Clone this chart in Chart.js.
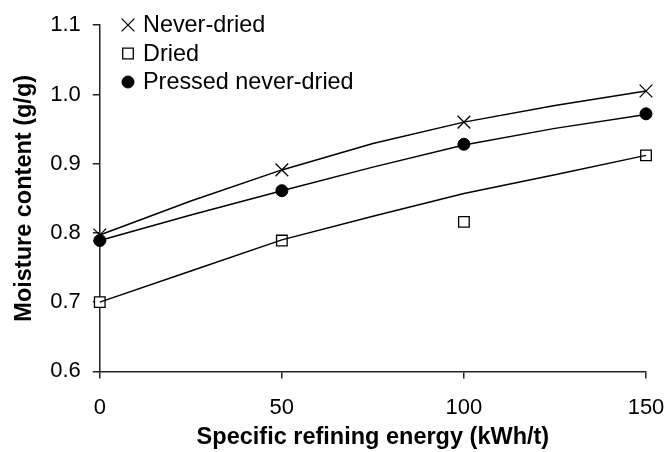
<!DOCTYPE html>
<html>
<head>
<meta charset="utf-8">
<script src="https://cdn.jsdelivr.net/npm/chart.js@4"></script>
<style>
  html, body { margin: 0; padding: 0; background: #fff; }
  #wrap { width: 670px; height: 452px; }
</style>
</head>
<body>
<div id="wrap"><canvas id="chart"></canvas></div>
<script>
// measured points
const energy = [0, 50, 100, 150];
const neverDried = [0.797, 0.891, 0.960, 1.005];
const dried = [0.700, 0.789, 0.816, 0.912];
const pressed = [0.789, 0.861, 0.928, 0.972];

// trend lines
const trendX = [0, 25, 50, 75, 100, 125, 150];
const trendNever = [0.797, 0.846, 0.891, 0.929, 0.960, 0.984, 1.005];
const trendPressed = [0.789, 0.826, 0.861, 0.895, 0.927, 0.951, 0.971];
const trendDried = [0.700, 0.745, 0.790, 0.824, 0.857, 0.884, 0.912];

const legendLabels = ['Never-dried', 'Dried', 'Pressed never-dried'];

const FONT = '"Liberation Sans", Arial, sans-serif';

function pts(xs, ys) { return xs.map((x, i) => ({ x: x, y: ys[i] })); }

function trend(ys) {
  return {
    data: pts(trendX, ys),
    showLine: true,
    borderColor: '#000',
    borderWidth: 1.5,
    pointRadius: 0,
    tension: 0,
    fill: false,
    clip: false
  };
}

const markerSets = [
  { data: pts(energy, neverDried), pointStyle: 'crossRot', pointRadius: 9, borderColor: '#000', backgroundColor: '#000', pointBorderWidth: 1.3 },
  { data: pts(energy, dried), pointStyle: 'rect', pointRadius: 7.5, borderColor: '#000', backgroundColor: '#fff', pointBorderWidth: 1.3 },
  { data: pts(energy, pressed), pointStyle: 'circle', pointRadius: 6, borderColor: '#000', backgroundColor: '#000', pointBorderWidth: 1 }
];

// legend drawn inside plot, top left
const innerLegend = {
  id: 'innerLegend',
  afterDraw(chart) {
    const ctx = chart.ctx;
    const x0 = 128, y0 = 25, gap = 28.5;
    ctx.save();
    ctx.font = '23.4px ' + FONT;
    ctx.textBaseline = 'middle';
    legendLabels.forEach((lab, i) => {
      const ds = markerSets[i];
      const y = y0 + gap * i;
      ctx.strokeStyle = ds.borderColor;
      ctx.fillStyle = ds.backgroundColor;
      ctx.lineWidth = ds.pointBorderWidth;
      Chart.helpers.drawPoint(ctx, { pointStyle: ds.pointStyle, radius: ds.pointRadius, borderWidth: ds.pointBorderWidth }, x0, y);
      ctx.fillStyle = '#000';
      ctx.fillText(lab, 143, y + 1);
    });
    ctx.restore();
  }
};

new Chart(document.getElementById('chart').getContext('2d'), {
  type: 'scatter',
  data: {
    datasets: [
      trend(trendNever),
      trend(trendDried),
      trend(trendPressed),
      ...markerSets.map(m => Object.assign({ showLine: false, clip: false }, m))
    ]
  },
  options: {
    responsive: true,
    maintainAspectRatio: false,
    animation: false,
    layout: { padding: { left: 10, right: 0, top: 14, bottom: 0 } },
    plugins: { legend: { display: false }, tooltip: { enabled: false } },
    scales: {
      x: {
        type: 'linear',
        min: 0, max: 150,
        afterFit: s => { s.paddingRight = 24; },
        border: { display: true, color: '#222', width: 1.5 },
        grid: { drawOnChartArea: false, drawTicks: true, tickLength: 7, color: '#222', lineWidth: 1.5 },
        ticks: { stepSize: 50, color: '#000', font: { family: FONT, size: 22 }, padding: 16, maxRotation: 0 },
        title: { display: true, text: 'Specific refining energy (kWh/t)', color: '#000', font: { family: FONT, size: 23.5, weight: 'bold' }, padding: { top: -13, bottom: 0 } }
      },
      y: {
        min: 0.6, max: 1.1,
        border: { display: true, color: '#222', width: 1.5 },
        grid: { drawOnChartArea: false, drawTicks: true, tickLength: 7, color: '#222', lineWidth: 1.5 },
        ticks: { stepSize: 0.1, color: '#000', font: { family: FONT, size: 22 }, padding: 12, callback: v => v.toFixed(1) },
        title: { display: true, text: 'Moisture content (g/g)', color: '#000', font: { family: FONT, size: 23.5, weight: 'bold' }, padding: { top: 0, bottom: 0 } }
      }
    }
  },
  plugins: [innerLegend]
});
</script>
</body>
</html>
